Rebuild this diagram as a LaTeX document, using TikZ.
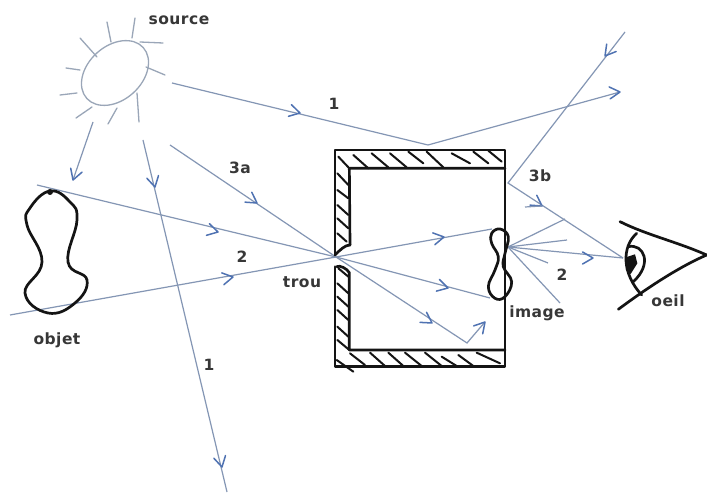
\documentclass[tikz,border=0pt]{standalone}
\usepackage{fontspec}
\setmainfont{DejaVu Sans}
\definecolor{ray}{HTML}{8496B4}
\definecolor{chevc}{HTML}{4F72B2}
\definecolor{sunc}{HTML}{9AA6B8}
\definecolor{ink}{HTML}{141414}
\tikzset{
  rayline/.style={draw=ray,line width=1.2pt},
  sunline/.style={draw=sunc,line width=1.3pt,line cap=round},
  chevline/.style={draw=chevc,line width=1.5pt,line cap=round,line join=round},
  inkthick/.style={draw=ink,line width=2.7pt,line cap=round,line join=round},
  inkthin/.style={draw=ink,line width=2pt,line cap=round},
  lab/.style={font=\fontsize{15.5}{17}\selectfont\bfseries\addfontfeature{LetterSpace=3},text=ink!85,inner sep=0pt},
  zoomB/.style={shift={(310,130)},x=0.33333pt,y=-0.33333pt},
  zoomE/.style={shift={(480,20)},x=0.33333pt,y=-0.33333pt}
}
\newcommand{\chevr}[3]{\draw[chevline] (#1,#2) -- ++(#3+150:12) (#1,#2) -- ++(#3-150:12);}
\begin{document}
\begin{tikzpicture}[x=1pt,y=-1pt]
\useasboundingbox[fill=white] (0,0) rectangle (707,502);
% named ray points
\coordinate (trou) at (336,257);
\coordinate (apex) at (428,145);
\coordinate (wall) at (508,183);
\coordinate (imgc) at (508,247);
\coordinate (eyep) at (623,258);
% sun
\draw[sunline,rotate around={42:(115,73)}] (115,73) ellipse (38 and 27);
\foreach \a/\b/\c/\d in {107/22/111/42, 80/38/97/57, 135/18/132/38, 140/42/163/43, 146/67/165/75, 66/68/80/70, 60/95/77/93, 76/118/92/107, 108/124/117/108, 137/93/139/122}
  \draw[sunline] (\a,\b) -- (\c,\d);
% rays
\draw[rayline] (93,122) -- (73,180);
\chevr{73}{180}{109}
\draw[rayline] (172,83) -- (apex) -- (620,92);
\chevr{300}{113}{14}
\chevr{620}{92}{-5}
\draw[rayline] (143,140) -- (227,492);
\chevr{155}{187}{77}
\chevr{222}{467}{77}
\draw[rayline] (37,185) -- (trou) -- (490,298);
\chevr{218}{232}{14}
\chevr{448}{288}{15}
\draw[rayline] (170,145) -- (trou) -- (467,343) -- (485,322);
\chevr{257}{203}{34}
\chevr{432}{323}{33}
\chevr{485}{322}{-49}
\draw[rayline] (10,315) -- (trou) -- (492,229);
\chevr{233}{277}{-10}
\chevr{444}{237}{-10}
\draw[rayline] (625,32) -- (wall) -- (eyep);
\chevr{605}{56}{128}
\chevr{542}{206}{34}
\draw[rayline] (525,207) -- (542,206);
\draw[rayline] (imgc) -- (565,219);
\draw[rayline] (imgc) -- (567,240);
\draw[rayline] (imgc) -- (eyep);
\draw[rayline] (imgc) -- (548,263);
\draw[rayline] (imgc) -- (560,303);
\chevr{593}{258}{0}
% box
\begin{scope}[zoomB]
\draw[inkthick] (75,375) -- (75,60) -- (585,60) -- (585,710) -- (75,710) -- (75,410);
\draw[inkthick] (120,345) -- (118,115) -- (585,115);
\draw[inkthick] (120,345) .. controls (105,345) and (90,360) .. (75,375);
\draw[inkthick] (80,410) .. controls (90,405) and (110,415) .. (118,428) -- (118,660) -- (585,660);
\foreach \a/\b/\c/\d in {130/75/175/115, 185/70/235/112, 240/70/290/112, 295/65/340/100, 350/65/400/112, 425/70/480/100, 490/65/535/100, 535/62/575/95,
  85/80/118/115, 82/130/115/165, 82/180/115/205, 82/225/115/255, 82/265/115/295, 82/310/110/335,
  85/415/115/440, 82/460/115/490, 82/500/115/530, 82/540/115/570, 82/590/115/620, 82/630/118/660,
  120/670/165/705, 180/668/225/708, 235/668/280/708, 285/668/335/708, 345/668/395/708, 395/680/440/708, 445/675/490/708, 500/668/570/700, 80/690/130/725}
  \draw[inkthin] (\a,\b) -- (\c,\d);
% image
\draw[inkthick] plot[smooth cycle,tension=0.7] coordinates {(545,310) (570,297) (595,320) (585,370) (580,410) (605,455) (585,500) (555,505) (535,470) (555,420) (565,380) (545,340)};
\end{scope}
% object
\draw[inkthick] plot[smooth cycle,tension=0.75] coordinates {(50,191) (30,208) (27,225) (42,262) (25,293) (48,313) (75,303) (87,280) (68,262) (77,220) (70,202)};
\fill[ink] (50,192) circle (3);
% eye
\begin{scope}[zoomE]
\draw[inkthick] (420,605) .. controls (500,645) and (590,665) .. (680,705);
\draw[inkthick] (680,705) .. controls (610,735) and (520,790) .. (415,868);
\draw[inkthick] (470,640) .. controls (425,680) and (425,760) .. (485,825);
\draw[inkthick] (445,680) .. controls (490,670) and (520,730) .. (460,785);
\fill[ink] (437,712) -- (465,703) -- (472,730) -- (452,762) -- (438,750) -- cycle;
\end{scope}
% labels
\node[lab] (lsource) at (179,20) {source};
\node[lab] (l3a) at (240,168) {3a};
\node[lab] (l1a) at (334,104) {1};
\node[lab] (l3b) at (540,176) {3b};
\node[lab] (l2a) at (242,257) {2};
\node[lab] (ltrou) at (302,282) {trou};
\node[lab] (lobjet) at (57,340) {objet};
\node[lab] (l1b) at (209,365) {1};
\node[lab] (l2b) at (562,275) {2};
\node[lab] (limage) at (537,313) {image};
\node[lab] (loeil) at (668,301) {oeil};
\end{tikzpicture}
\end{document}
